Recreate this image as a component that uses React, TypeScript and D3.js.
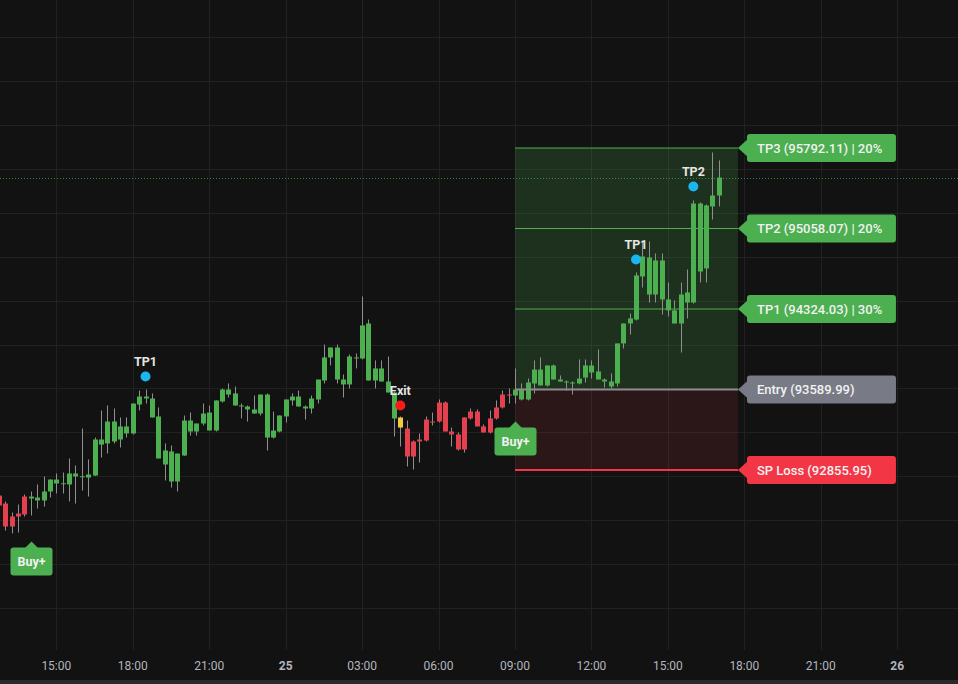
import React, { useLayoutEffect } from 'react';
import * as d3 from 'd3';

const W = 958;
const H = 684;
const PLOT_BOTTOM = 650;

// 15-minute bars, first bar 24th 12:45
const FIRST_BAR = new Date(2024, 10, 24, 12, 45);
const ANCHOR_BAR = new Date(2024, 10, 25, 9, 0); // bar index 81
const BAR_MS = 15 * 60 * 1000;

const opens = [
  92623, 92550, 92341, 92432, 92450, 92614, 92578, 92578, 92660, 92769,
  92733, 92724, 92824, 92797, 92787, 92806, 93134, 93098, 93298, 93134,
  93253, 93189, 93453, 93526, 93508, 93344, 93034, 93025, 92751, 92988,
  93307, 93207, 93280, 93380, 93216, 93481, 93590, 93554, 93444, 93435,
  93408, 93371, 93544, 93152, 93207, 93344, 93490, 93526, 93435, 93417,
  93499, 93672, 93882, 93973, 93681, 93636, 93882, 93873, 94192, 93672,
  93782, 93663, 93563, 93335, 93234, 92979, 93116, 93125, 93298, 93298,
  93471, 93207, 93180, 93043, 93326, 93389, 93253, 93198, 93326, 93426,
  93544, 93535, 93590, 93499, 93645, 93772, 93627, 93809, 93681, 93663,
  93654, 93645, 93699, 93809, 93754, 93681, 93663, 93645, 94010, 94192,
  94228, 94621, 94794, 94456, 94767, 94411, 94311, 94192, 94383, 94383,
  95286, 94694, 95259, 95359,
];
const highs = [
  92642, 92569, 92468, 92541, 92632, 92660, 92724, 92797, 92769, 92824,
  92833, 92961, 92897, 93234, 92952, 93152, 93399, 93444, 93417, 93335,
  93335, 93462, 93581, 93590, 93554, 93426, 93098, 93079, 93006, 93353,
  93380, 93280, 93462, 93444, 93490, 93599, 93645, 93617, 93462, 93444,
  93535, 93544, 93554, 93389, 93353, 93499, 93554, 93581, 93444, 93535,
  93681, 94000, 93973, 94000, 93727, 93909, 93918, 94438, 94228, 93855,
  93855, 93891, 93570, 93344, 93307, 93125, 93189, 93344, 93380, 93499,
  93481, 93243, 93198, 93335, 93417, 93408, 93271, 93399, 93490, 93581,
  93599, 93782, 93645, 93690, 93855, 93882, 93809, 93818, 93718, 93672,
  93663, 93864, 93864, 93855, 93955, 93690, 93736, 94010, 94192, 94283,
  94657, 94949, 94940, 94830, 94830, 94566, 94402, 94566, 94684, 95314,
  95295, 95277, 95751, 95679,
];
const lows = [
  92514, 92304, 92277, 92286, 92432, 92441, 92505, 92523, 92605, 92642,
  92642, 92569, 92550, 92669, 92614, 92800, 92970, 93006, 93098, 93061,
  93152, 93180, 93399, 93462, 93335, 92961, 92760, 92696, 92660, 92985,
  93170, 93170, 93262, 93216, 93207, 93471, 93517, 93444, 93326, 93298,
  93371, 93353, 93034, 93143, 93200, 93289, 93444, 93435, 93316, 93371,
  93462, 93645, 93809, 93645, 93517, 93599, 93782, 93864, 93672, 93599,
  93663, 93563, 93161, 93070, 92888, 92860, 92924, 93116, 93262, 93289,
  93207, 93070, 93034, 93015, 93316, 93253, 93198, 93189, 93316, 93417,
  93462, 93462, 93490, 93490, 93554, 93627, 93617, 93681, 93663, 93581,
  93544, 93636, 93654, 93690, 93681, 93608, 93599, 93617, 93964, 94092,
  94220, 94520, 94383, 94383, 94274, 94256, 94192, 93927, 94238, 94374,
  94566, 94566, 95140, 95259,
];
const closes = [
  92532, 92341, 92432, 92459, 92614, 92596, 92605, 92660, 92769, 92733,
  92735, 92824, 92797, 92799, 92815, 93134, 93088, 93298, 93116, 93253,
  93189, 93462, 93526, 93508, 93335, 92961, 92906, 92751, 93006, 93307,
  93207, 93280, 93371, 93216, 93490, 93590, 93544, 93444, 93435, 93408,
  93371, 93544, 93152, 93216, 93353, 93499, 93526, 93435, 93417, 93508,
  93681, 93882, 93973, 93681, 93636, 93891, 93873, 94174, 93672, 93782,
  93663, 93563, 93326, 93243, 92979, 93116, 93134, 93316, 93296, 93471,
  93207, 93180, 93043, 93335, 93389, 93253, 93198, 93326, 93426, 93544,
  93542, 93590, 93499, 93654, 93772, 93627, 93809, 93681, 93663, 93654,
  93645, 93690, 93809, 93745, 93681, 93663, 93617, 94010, 94192, 94238,
  94630, 94803, 94456, 94767, 94411, 94311, 94192, 94456, 94475, 95286,
  94666, 95268, 95359, 95523,
];

// position state changes (bar index -> state)
const stateChanges = [
  { bar: 0, state: 'flat' },
  { bar: 5, state: 'long' },
  { bar: 63, state: 'exit' },
  { bar: 64, state: 'flat' },
  { bar: 81, state: 'long' },
];

const buySignals = [5, 81];
const exitSignal = { bar: 63, price: 93444, label: 'Exit' };
const tpMarkers = [
  { bar: 23, price: 93709, label: 'TP1' },
  { bar: 100, price: 94775, label: 'TP1' },
  { bar: 109, price: 95441, label: 'TP2' },
];

const levelNames = ['TP3', 'TP2', 'TP1', 'Entry', 'SP Loss'];
const levelPrices = [95792.11, 95058.07, 94324.03, 93589.99, 92855.95];
const levelShares = ['20%', '20%', '30%', '', ''];
const levelKinds = ['tp', 'tp', 'tp', 'entry', 'sl'];

const TRADE_START = new Date(2024, 10, 25, 9, 0);
const TRADE_END = new Date(2024, 10, 25, 17, 45);
const lastPrice = closes[closes.length - 1];

const COLORS = {
  bg: '#121212',
  grid: '#212121',
  up: '#4caf50',
  down: '#e5404f',
  exit: '#f5c842',
  wick: '#8f8f8f',
  tp: '#4caf50',
  entry: '#787b86',
  sl: '#f23645',
  marker: '#1cb6ee',
  text: '#e6e6e6',
  axis: '#b2b5be',
};

const barTime = (i: number) => new Date(FIRST_BAR.getTime() + i * BAR_MS);

export default function App() {
  useLayoutEffect(() => {
    document.body.style.margin = '0';
    document.body.style.background = COLORS.bg;
  }, []);

  const x = d3.scaleTime().domain([FIRST_BAR, ANCHOR_BAR]).range([-1, 515]);
  const y = d3
    .scaleLinear()
    .domain([levelPrices[4], levelPrices[0]])
    .range([470, 148]);

  const barW = 5;
  const timeTicks = d3.timeHour
    .every(3)!
    .range(x.invert(-40), x.invert(W + 40));
  const labelTicks = timeTicks.filter((t) => x(t) > 10);
  const priceTicks = d3.range(91200, 97600, 400).filter((p) => {
    const yy = y(p);
    return yy > 0 && yy < PLOT_BOTTOM;
  });

  const stateOf = (i: number) => {
    let s = 'flat';
    for (const c of stateChanges) if (i >= c.bar) s = c.state;
    return s;
  };
  const colorOf = (s: string) =>
    s === 'long' ? COLORS.up : s === 'exit' ? COLORS.exit : COLORS.down;

  const xs = x(TRADE_START);
  const xe = x(TRADE_END);
  const font = 'Roboto, "Open Sans", sans-serif';

  const fmtTick = (d: Date) =>
    d.getHours() === 0 ? String(d.getDate()) : d3.timeFormat('%H:%M')(d);

  return (
    <div style={{ position: 'absolute', left: 0, top: 0 }}>
      <svg width={W} height={H} style={{ display: 'block', background: COLORS.bg }}>
        <rect x={0} y={0} width={W} height={H} fill={COLORS.bg} />
        {/* grid */}
        <g>
          {priceTicks.map((p) => (
            <line
              key={'h' + p}
              x1={0}
              x2={W}
              y1={Math.round(y(p)) + 0.5}
              y2={Math.round(y(p)) + 0.5}
              stroke={COLORS.grid}
            />
          ))}
          {timeTicks.map((t) => (
            <line
              key={'v' + t.getTime()}
              x1={Math.round(x(t)) + 0.5}
              x2={Math.round(x(t)) + 0.5}
              y1={0}
              y2={PLOT_BOTTOM}
              stroke={COLORS.grid}
            />
          ))}
        </g>

        {/* trade zones */}
        <rect
          x={xs}
          y={y(levelPrices[0])}
          width={xe - xs}
          height={y(levelPrices[3]) - y(levelPrices[0])}
          fill="rgba(76,175,80,0.2)"
        />
        <rect
          x={xs}
          y={y(levelPrices[3])}
          width={xe - xs}
          height={y(levelPrices[4]) - y(levelPrices[3])}
          fill="rgba(242,54,69,0.11)"
        />

        {/* last price dotted line */}
        <line
          x1={0}
          x2={W}
          y1={Math.round(y(lastPrice)) + 0.5}
          y2={Math.round(y(lastPrice)) + 0.5}
          stroke={COLORS.up}
          strokeOpacity={0.7}
          strokeDasharray="1 2"
        />

        {/* candles */}
        <g>
          {opens.map((o, i) => {
            const cx = x(barTime(i));
            const c = closes[i];
            const top = y(Math.max(o, c));
            const bot = y(Math.min(o, c));
            const col = colorOf(stateOf(i));
            return (
              <g key={i}>
                <line
                  x1={Math.round(cx) + 0.5}
                  x2={Math.round(cx) + 0.5}
                  y1={y(highs[i])}
                  y2={y(lows[i])}
                  stroke={COLORS.wick}
                />
                <rect
                  x={Math.round(cx) + 0.5 - barW / 2}
                  y={top}
                  width={barW}
                  height={Math.max(1, bot - top)}
                  fill={col}
                />
              </g>
            );
          })}
        </g>

        {/* level lines */}
        {levelPrices.map((p, k) => {
          const kind = levelKinds[k];
          const col = kind === 'tp' ? COLORS.tp : kind === 'entry' ? '#8c8c8c' : COLORS.sl;
          return (
            <line
              key={'l' + k}
              x1={xs}
              x2={xe}
              y1={y(p)}
              y2={y(p)}
              stroke={col}
              strokeWidth={kind === 'tp' ? 1 : 2}
            />
          );
        })}

        {/* level labels */}
        {levelPrices.map((p, k) => {
          const kind = levelKinds[k];
          const col = kind === 'tp' ? COLORS.tp : kind === 'entry' ? COLORS.entry : COLORS.sl;
          const yy = y(p);
          const bx = xe + 9;
          const bw = 149;
          const bh = 28;
          const txt =
            kind === 'tp'
              ? `${levelNames[k]} (${p.toFixed(2)}) | ${levelShares[k]}`
              : `${levelNames[k]} (${p.toFixed(2)})`;
          return (
            <g key={'lab' + k}>
              <rect x={bx} y={yy - bh / 2} width={bw} height={bh} rx={3} fill={col} />
              <path d={`M${xe},${yy} L${bx + 1},${yy - 9} L${bx + 1},${yy + 9} Z`} fill={col} />
              <text
                x={bx + 10}
                y={yy}
                dominantBaseline="central"
                fill="#f2f2f2"
                fontFamily={font}
                fontSize={13}
                fontWeight={500}
              >
                {txt}
              </text>
            </g>
          );
        })}

        {/* TP markers */}
        {tpMarkers.map((m, k) => {
          const cx = x(barTime(m.bar));
          const cy = y(m.price);
          return (
            <g key={'tp' + k}>
              <circle cx={cx} cy={cy} r={5} fill={COLORS.marker} />
              <text
                x={cx}
                y={cy - 15}
                textAnchor="middle"
                dominantBaseline="central"
                fill={COLORS.text}
                fontFamily={font}
                fontSize={12.5}
                fontWeight={700}
              >
                {m.label}
              </text>
            </g>
          );
        })}

        {/* exit */}
        {(() => {
          const cx = x(barTime(exitSignal.bar));
          const cy = y(exitSignal.price);
          return (
            <g>
              <circle cx={cx} cy={cy} r={5} fill="#ff1a1a" />
              <text
                x={cx}
                y={cy - 15}
                textAnchor="middle"
                dominantBaseline="central"
                fill={COLORS.text}
                fontFamily={font}
                fontSize={12.5}
                fontWeight={700}
              >
                {exitSignal.label}
              </text>
            </g>
          );
        })()}

        {/* buy labels */}
        {buySignals.map((b, k) => {
          const cx = Math.round(x(barTime(b))) + 0.5;
          const lowY = y(lows[b]);
          const tipY = lowY + 18 + (k === 0 ? 8 : 0);
          const bh = 28;
          const bw = 42;
          const by = tipY + 6;
          return (
            <g key={'buy' + k}>
              <path d={`M${cx},${tipY} L${cx + 7},${by + 1} L${cx - 7},${by + 1} Z`} fill={COLORS.up} />
              <rect x={cx - bw / 2} y={by} width={bw} height={bh} rx={3} fill={COLORS.up} />
              <text
                x={cx}
                y={by + bh / 2}
                textAnchor="middle"
                dominantBaseline="central"
                fill="#f2f2f2"
                fontFamily={font}
                fontSize={12.5}
                fontWeight={700}
              >
                Buy+
              </text>
            </g>
          );
        })}

        {/* time axis */}
        {labelTicks.map((t) => (
          <text
            key={'t' + t.getTime()}
            x={x(t)}
            y={666}
            textAnchor="middle"
            dominantBaseline="central"
            fill={COLORS.axis}
            fontFamily={font}
            fontSize={12}
            fontWeight={t.getHours() === 0 ? 700 : 400}
          >
            {fmtTick(t)}
          </text>
        ))}
        <rect x={0} y={680} width={W} height={4} fill="#2a2a2a" />
      </svg>
    </div>
  );
}
